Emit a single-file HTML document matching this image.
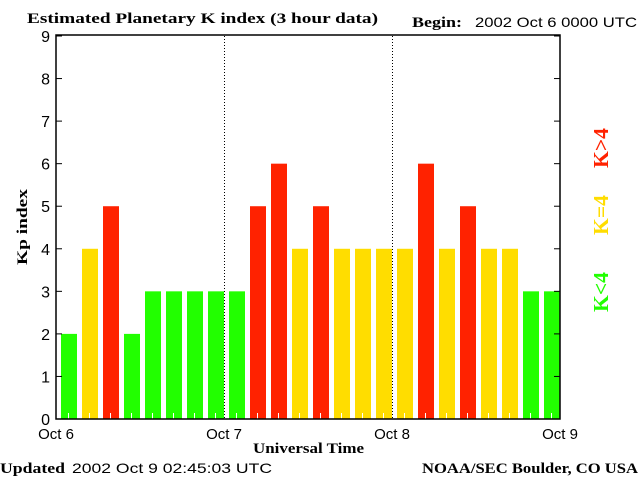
<!DOCTYPE html>
<html><head><meta charset="utf-8"><style>
body{margin:0;background:#fff}
svg text{font-family:"Liberation Sans",sans-serif}
.s{font-family:"Liberation Serif",serif;font-weight:bold}
</style></head><body>
<svg id="c" width="640" height="480" xmlns="http://www.w3.org/2000/svg">
<text x="27" y="23" class="s" font-size="15" textLength="351" lengthAdjust="spacingAndGlyphs">Estimated Planetary K index (3 hour data)</text>
<text x="412" y="27" class="s" font-size="15" textLength="50" lengthAdjust="spacingAndGlyphs">Begin:</text>
<text x="475" y="27" font-size="14" textLength="162" lengthAdjust="spacingAndGlyphs">2002 Oct 6 0000 UTC</text>
<text x="0" y="473" class="s" font-size="15" textLength="65" lengthAdjust="spacingAndGlyphs">Updated</text>
<text x="72" y="473" font-size="14" textLength="200" lengthAdjust="spacingAndGlyphs">2002 Oct  9 02:45:03 UTC</text>
<text x="422" y="473" class="s" font-size="15" textLength="216" lengthAdjust="spacingAndGlyphs">NOAA/SEC Boulder, CO USA</text>
<text x="253" y="453" class="s" font-size="15" textLength="111" lengthAdjust="spacingAndGlyphs">Universal Time</text>
<text transform="translate(27,227) rotate(-90)" text-anchor="middle" class="s" font-size="15" textLength="76" lengthAdjust="spacingAndGlyphs">Kp index</text>
<g transform="translate(608,0)">
<text transform="translate(0,148) rotate(-90)" text-anchor="middle" class="s" font-size="21" textLength="40" lengthAdjust="spacingAndGlyphs" fill="#ff2200">K&gt;4</text>
<text transform="translate(0,215) rotate(-90)" text-anchor="middle" class="s" font-size="21" textLength="40" lengthAdjust="spacingAndGlyphs" fill="#ffdd00">K=4</text>
<text transform="translate(0,292) rotate(-90)" text-anchor="middle" class="s" font-size="21" textLength="40" lengthAdjust="spacingAndGlyphs" fill="#22ff00">K&lt;4</text>
</g>
<g id="plot"></g>
</svg>
<script>
const kpValues=[2,4,5,2,3,3,3,3,3,5,6,4,5,4,4,4,4,6,4,5,4,4,3,3];
const yTicks=[0,1,2,3,4,5,6,7,8,9];
const dayLabels=["Oct 6","Oct 7","Oct 8","Oct 9"];
const L=56,R=560,T=36,B=419;
const NS="http://www.w3.org/2000/svg";
const g=document.getElementById('plot');
const sx=i=>L+i*(R-L)/kpValues.length;
const sy=v=>B-v*(B-T)/9;
function mk(t,a){const e=document.createElementNS(NS,t);for(const k in a)e.setAttribute(k,a[k]);g.appendChild(e);return e;}
const col=v=>v>4?"#ff2200":(v==4?"#ffdd00":"#22ff00");
kpValues.forEach((v,i)=>{
 const w=(R-L)/kpValues.length;
 const r=mk('rect',{x:sx(i)+5,y:sy(v),width:16,height:B-sy(v),fill:col(v)});
 
 
 mk('line',{x1:sx(i)+w/2+2,x2:sx(i)+w/2+2,y1:B-6,y2:B,stroke:'#fff','stroke-width':1});
});
yTicks.forEach(v=>{
 mk('line',{x1:L,x2:L+6,y1:sy(v),y2:sy(v),stroke:'#000'});
 mk('line',{x1:R-6,x2:R,y1:sy(v),y2:sy(v),stroke:'#000'});
 const t=mk('text',{x:L-6,y:sy(v)+6,'text-anchor':'end','font-size':16});
 t.textContent=v;
 
 
});
dayLabels.forEach((d,i)=>{
 const x=L+i*(R-L)/(dayLabels.length-1);
 if(i>0&&i<dayLabels.length-1){mk('line',{x1:x+0.5,x2:x+0.5,y1:T,y2:B,stroke:'#000','stroke-dasharray':'1,2'});}
 const t=mk('text',{x:x,y:439,'text-anchor':'middle','font-size':15});
 t.textContent=d;
 
 
});
const f=mk('rect',{x:L,y:T-1,width:R-L,height:B-T+1,fill:'none',stroke:'#000','stroke-width':1.5});


</script>
</body></html>
